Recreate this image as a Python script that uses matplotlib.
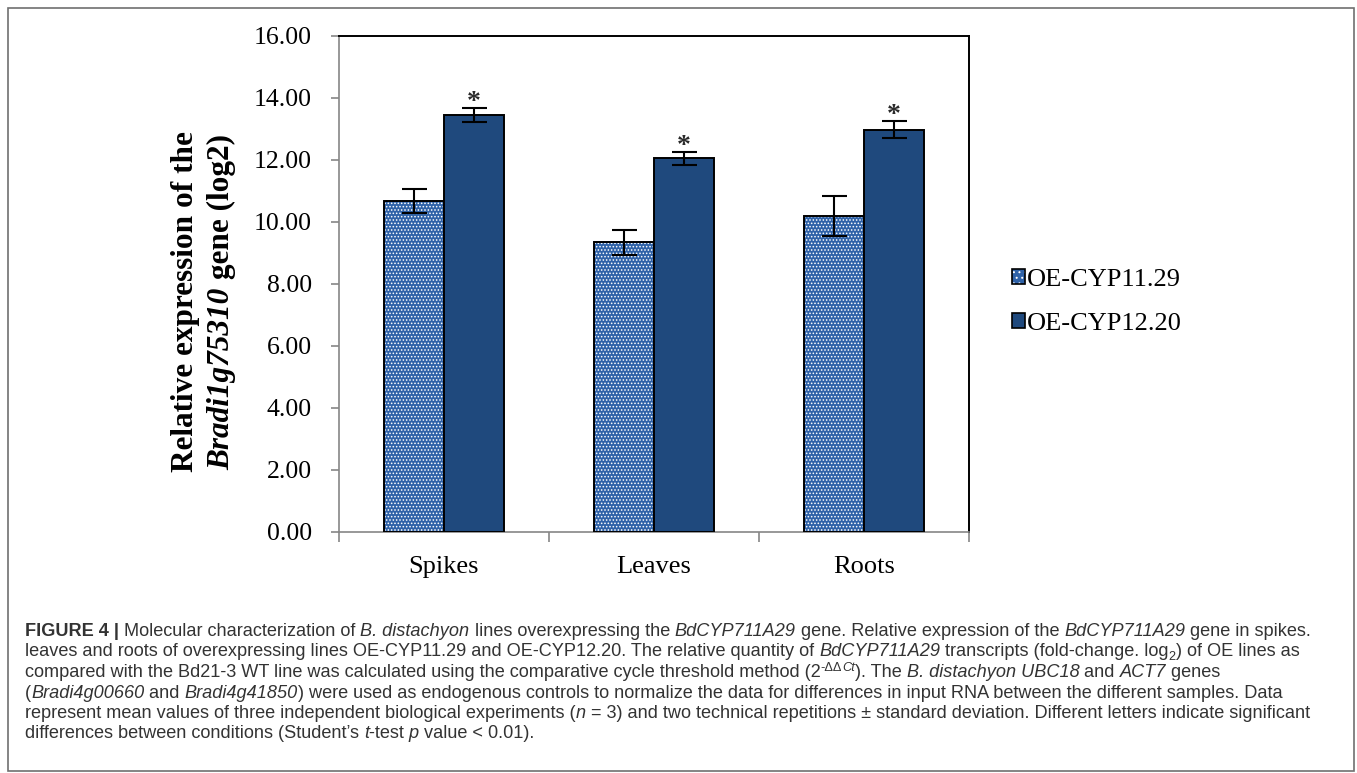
import matplotlib
matplotlib.use("Agg")
import matplotlib.pyplot as plt
import matplotlib.ticker as ticker
import numpy as np
from matplotlib.patches import Patch, Rectangle
from matplotlib.legend_handler import HandlerTuple
from matplotlib.font_manager import FontProperties

# data
categories = ["Spikes", "Leaves", "Roots"]
series_names = ["OE-CYP11.29", "OE-CYP12.20"]
oe_1129 = [10.68, 9.35, 10.20]
oe_1129_sd = [0.40, 0.40, 0.65]
oe_1220 = [13.45, 12.05, 12.98]
oe_1220_sd = [0.22, 0.20, 0.27]
y_ticks = [0, 2, 4, 6, 8, 10, 12, 14, 16]

W, H = 1357, 773
plt.rcParams["hatch.linewidth"] = 0.7

DARK = "#1f497d"
LIGHT = "#2f62a8"
GRAY = "#868686"

fig = plt.figure(figsize=(W / 100, H / 100), dpi=100)
ax = fig.add_axes([339 / W, 1 - 532 / H, (969 - 339) / W, (532 - 36) / H])
renderer = fig.canvas.get_renderer()

x = np.arange(len(categories))
bw = 0.2857

# light (dotted) series: hatched fill first, black outline on top
ax.bar(x - bw / 2, oe_1129, bw, color=LIGHT, edgecolor="white", hatch=".....", linewidth=0, zorder=2)
ax.bar(x - bw / 2, oe_1129, bw, fill=False, edgecolor="black", linewidth=1.4, zorder=3)
ax.bar(x + bw / 2, oe_1220, bw, color=DARK, edgecolor="black", linewidth=1.4, zorder=3)

eb = dict(fmt="none", ecolor="black", elinewidth=1.5, capsize=9, capthick=1.5, zorder=4)
ax.errorbar(x - bw / 2, oe_1129, yerr=oe_1129_sd, **eb)
ax.errorbar(x + bw / 2, oe_1220, yerr=oe_1220_sd, **eb)

for xi, v, e in zip(x + bw / 2, oe_1220, oe_1220_sd):
    ax.text(xi, v + e + 0.18, "*", ha="center", va="center", fontsize=20,
            family="Liberation Serif", fontweight="bold", color="#2a2a2a")

ax.set_xlim(-0.5, 2.5)
ax.set_ylim(0, 16)
ax.set_yticks(y_ticks)
ax.yaxis.set_major_formatter(ticker.FormatStrFormatter("%.2f"))
ax.tick_params(axis="y", direction="out", length=6, width=1.2, color=GRAY, pad=13.5,
               labelsize=18.5)
for lab in ax.get_yticklabels():
    lab.set_family("Liberation Serif")

ax.set_xticks([-0.5, 0.5, 1.5, 2.5])
ax.set_xticklabels([])
ax.set_xticks(x, minor=True)
ax.set_xticklabels(categories, minor=True, family="Liberation Serif", fontsize=19)
ax.tick_params(axis="x", which="major", direction="out", length=7, width=1.2, color=GRAY)
ax.tick_params(axis="x", which="minor", length=0, pad=17)

for s in ["left", "bottom"]:
    ax.spines[s].set_color(GRAY)
    ax.spines[s].set_linewidth(1.2)
for s in ["top", "right"]:
    ax.spines[s].set_color("black")
    ax.spines[s].set_linewidth(1.4)

# y label, two rotated lines (second line mixes italic and upright)
ylab_size = 22.5
fig.text(193 / W, 1 - 302 / H, "Relative expression of the", rotation=90,
         rotation_mode="anchor", ha="center", va="baseline", fontsize=ylab_size,
         family="Liberation Serif", fontweight="bold")
fp_it = FontProperties(family="Liberation Serif", weight="bold", style="italic", size=ylab_size)
fp_rm = FontProperties(family="Liberation Serif", weight="bold", size=ylab_size)


def measure(s, fp):
    w1 = renderer.get_text_width_height_descent(s + "|", fp, ismath=False)[0]
    w0 = renderer.get_text_width_height_descent("|", fp, ismath=False)[0]
    return w1 - w0


part_it, part_rm = "Bradi1g75310", " gene (log2)"
w_it, w_rm = measure(part_it, fp_it), measure(part_rm, fp_rm)
y_start = 302 + (w_it + w_rm) / 2
fig.text(229 / W, 1 - y_start / H, part_it, rotation=90, rotation_mode="anchor",
         ha="left", va="baseline", fontproperties=fp_it)
fig.text(229 / W, 1 - (y_start - w_it) / H, part_rm, rotation=90, rotation_mode="anchor",
         ha="left", va="baseline", fontproperties=fp_rm)

# legend
h1 = (Patch(facecolor=LIGHT, edgecolor="white", hatch="...", linewidth=0),
      Patch(fill=False, edgecolor="black", linewidth=1.2))
h2 = Patch(facecolor=DARK, edgecolor="black", linewidth=1.2)
ax.legend([h1, h2], series_names, handler_map={tuple: HandlerTuple(ndivide=1, pad=0)},
          loc="center left", bbox_to_anchor=(1012 / W, 1 - 302 / H),
          bbox_transform=fig.transFigure, frameon=False,
          prop={"family": "Liberation Serif", "size": 19},
          handlelength=0.5, handleheight=0.5, handletextpad=0.08,
          labelspacing=0.85, borderpad=0, borderaxespad=0)

# outer frame
fig.patches.append(Rectangle((8 / W, 1 - 771 / H), (1354 - 8) / W, (771 - 8) / H,
                             transform=fig.transFigure, fill=False,
                             edgecolor="#707070", linewidth=1.2))

# caption
caption = [
    [("FIGURE 4 | ", "b"), ("Molecular characterization of ", ""), ("B. distachyon", "i"),
     (" lines overexpressing the ", ""), ("BdCYP711A29", "i"),
     (" gene. Relative expression of the ", ""), ("BdCYP711A29", "i"), (" gene in spikes.", "")],
    [("leaves and roots of overexpressing lines OE-CYP11.29 and OE-CYP12.20. The relative quantity of ", ""),
     ("BdCYP711A29", "i"), (" transcripts (fold-change. log", ""), ("2", "sub"), (") of OE lines as", "")],
    [("compared with the Bd21-3 WT line was calculated using the comparative cycle threshold method (2", ""),
     ("-\u0394\u0394", "sup"), ("Ct", "supi"), ("). The ", ""), ("B. distachyon UBC18", "i"),
     (" and ", ""), ("ACT7", "i"), (" genes", "")],
    [("(", ""), ("Bradi4g00660", "i"), (" and ", ""), ("Bradi4g41850", "i"),
     (") were used as endogenous controls to normalize the data for differences in input RNA between the different samples. Data", "")],
    [("represent mean values of three independent biological experiments (", ""), ("n", "i"),
     (" = 3) and two technical repetitions \u00b1 standard deviation. Different letters indicate significant", "")],
    [("differences between conditions (Student\u2019s ", ""), ("t", "i"), ("-test ", ""), ("p", "i"),
     (" value < 0.01).", "")],
]


def run_props(style, size):
    fp = FontProperties(family="Liberation Sans", size=size)
    if style == "b":
        fp.set_weight("bold")
    if style in ("i", "supi"):
        fp.set_style("italic")
    if style in ("sub", "sup", "supi"):
        fp.set_size(size * 0.7)
    return fp


def line_width(runs, size):
    return sum(measure(t, run_props(st, size)) for t, st in runs)


# fit the caption size to the width of the first line
size = 12.0
size = size * (1313 - 25) / line_width(caption[0], size)

for i, runs in enumerate(caption):
    xpos = 25
    base = 636 + i * 20.5
    for t, st in runs:
        fp = run_props(st, size)
        dy = 0
        if st == "sub":
            dy = 3.5
        elif st in ("sup", "supi"):
            dy = -6
        fig.text(xpos / W, 1 - (base + dy) / H, t, fontproperties=fp,
                 color="#333333", va="baseline", ha="left")
        xpos += measure(t, fp)

fig.savefig("out.png", dpi=100)
